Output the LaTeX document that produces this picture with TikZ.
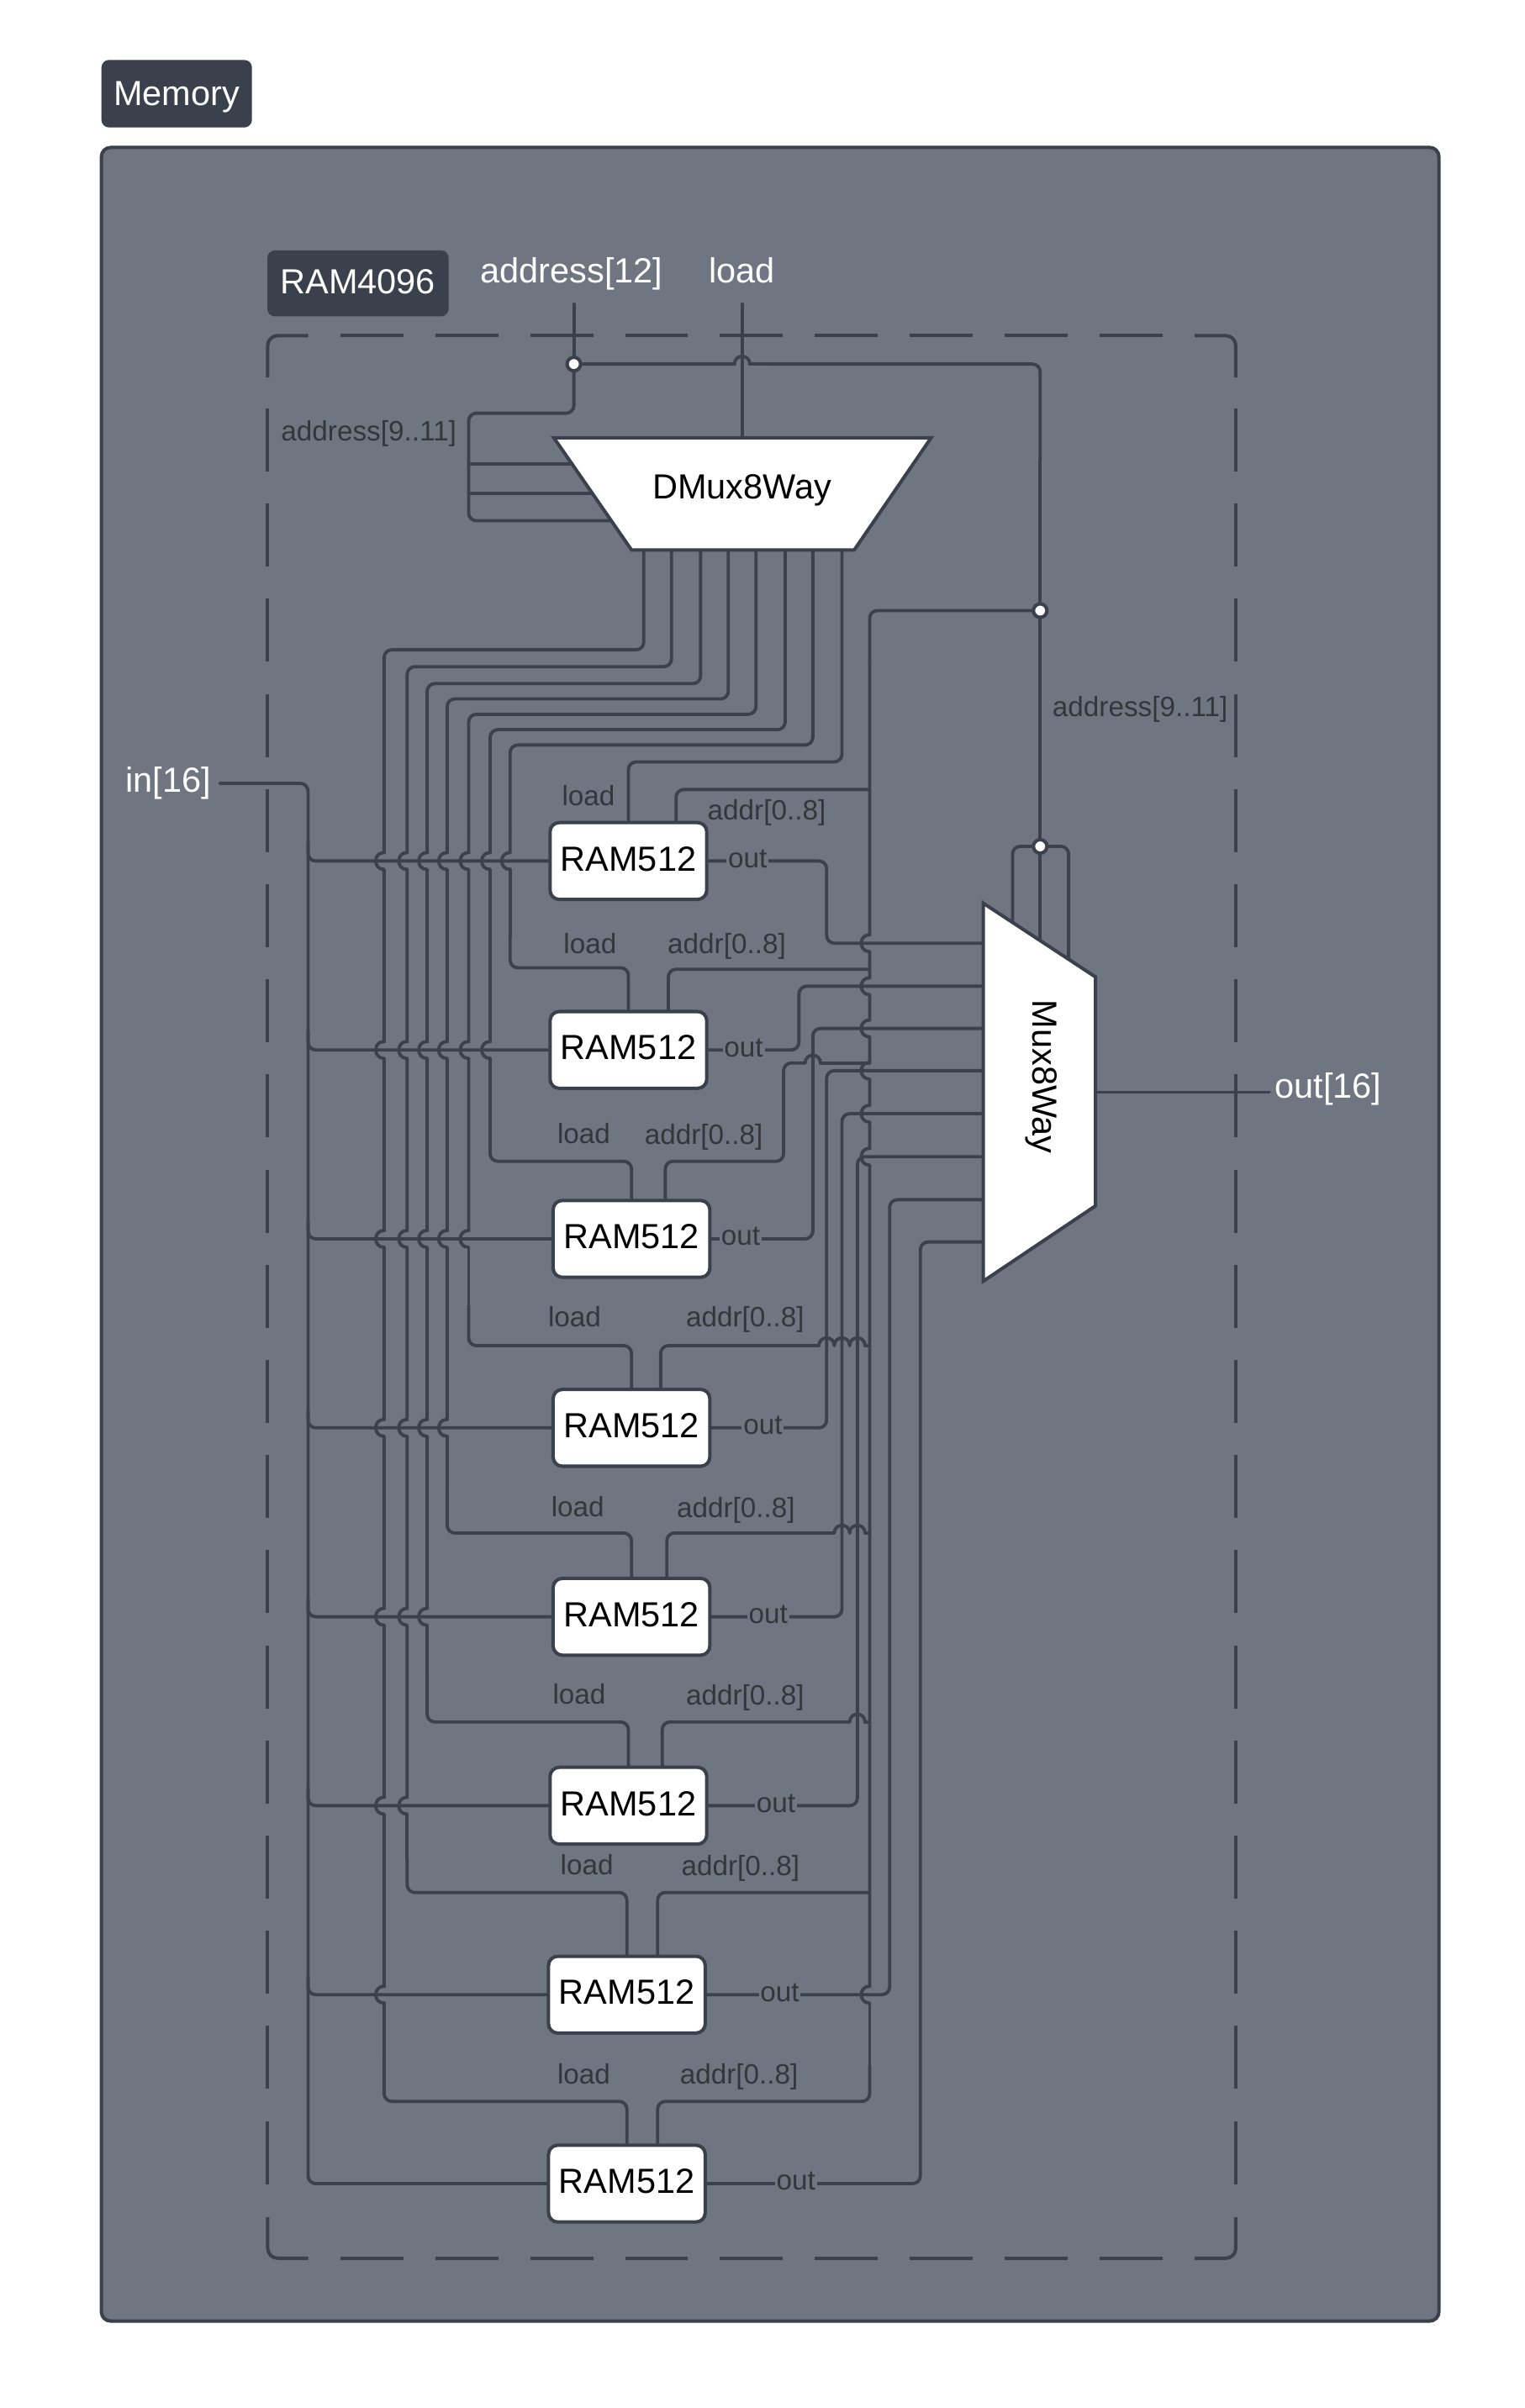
\documentclass[tikz,border=0pt]{standalone}
\usepackage{fontspec}
\setmainfont{Liberation Sans}
\definecolor{panelc}{HTML}{6F7581}
\definecolor{linec}{HTML}{3A414C}
\definecolor{labelc}{HTML}{33373C}
\pgfdeclarelayer{wires}
\pgfsetlayers{wires,main}
\tikzset{
  wire/.style={draw=linec,line width=2.1pt,line cap=round},
  rwire/.style={wire,rounded corners=5pt},
  frameline/.style={draw=linec,line width=2.2pt},
  rambox/.style={draw=linec,fill=white,line width=2.2pt,rounded corners=6pt,minimum width=102pt,minimum height=50pt,inner sep=0pt,outer sep=0pt,text depth=3pt,font=\fontsize{22.7}{27}\selectfont},
  trapline/.style={draw=linec,fill=white,line width=2.2pt,line join=miter},
  bigtext/.style={inner sep=0pt,font=\fontsize{22.7}{27}\selectfont},
  whitetext/.style={bigtext,text=white},
  smalltext/.style={inner sep=0pt,text=labelc,font=\fontsize{18.2}{22}\selectfont},
  portlabel/.style={smalltext,fill=panelc,inner xsep=1pt,inner ysep=0pt},
  titletag/.style={fill=linec,rounded corners=5pt,text=white,inner sep=0pt,text depth=0pt,font=\fontsize{22.7}{27}\selectfont},
  joint/.style={circle,draw=linec,fill=white,line width=2.2pt,minimum size=8.8pt,inner sep=0pt,outer sep=0pt}
}
% vertical run with leftward bumps: x, y start, y end, crossing list
\newcommand\vrun[4]{%
  \xdef\curpos{#2}%
  \foreach \c in {#4}{%
    \draw[wire] (#1,\curpos) -- (#1,\c-5.5) .. controls (#1-7.3,\c-5.5) and (#1-7.3,\c+5.5) .. (#1,\c+5.5);
    \pgfmathsetmacro\nxtpos{\c+5.5}\global\let\curpos\nxtpos
  }%
  \draw[wire] (#1,\curpos) -- (#1,#3);
}
% horizontal run with upward bumps: y, x start, x end, crossing list
\newcommand\hrun[4]{%
  \xdef\curpos{#2}%
  \foreach \c in {#4}{%
    \draw[wire] (\curpos,#1) -- (\c-5,#1) .. controls (\c-5,#1-6.7) and (\c+5,#1-6.7) .. (\c+5,#1);
    \pgfmathsetmacro\nxtpos{\c+5}\global\let\curpos\nxtpos
  }%
  \draw[wire] (\curpos,#1) -- (#3,#1);
}
\begin{document}
\begin{tikzpicture}[x=1pt,y=-1pt]
\useasboundingbox (0,0) rectangle (992,1567.6);

% --- named ends ---
\coordinate (addrtop) at (373.5,198);
\coordinate (loadtop) at (483,198);
\coordinate (inend) at (143,510);
\coordinate (outend) at (826,711);
\coordinate (inbus) at (200.5,0);
\coordinate (dmuxtop) at (483,285);
\coordinate (dmuxa) at (385,302);
\coordinate (dmuxb) at (395,321);
\coordinate (dmuxc) at (405,339);
\coordinate (muxout) at (713,711);
\foreach \i/\x in {1/419,2/437,3/456,4/474,5/492,6/511,7/529,8/548} \coordinate (dmo\i) at (\x,358);
\foreach \i/\y in {1/614,2/642,3/669.5,4/697,5/725,6/753,7/781,8/808.5} \coordinate (muxi\i) at (640,\y);
\foreach \i/\x/\y in {1/440/536,2/435/659,3/433/782,4/430/905,5/434/1028,6/431/1151,7/428/1274,8/428/1397} \coordinate (addr\i) at (\x,\y);

% --- nodes ---
\node[titletag,minimum width=98pt,minimum height=44pt] (memtag) at (115,61) {Memory};
\node[titletag,minimum width=118pt,minimum height=43pt,text depth=2pt] (ramtag) at (233,184.5) {RAM4096};

\node[rambox] (ram1) at (409,560.5) {RAM512};
\node[rambox] (ram2) at (409,683.5) {RAM512};
\node[rambox] (ram3) at (411,806.5) {RAM512};
\node[rambox] (ram4) at (411,929.5) {RAM512};
\node[rambox] (ram5) at (411,1052.5) {RAM512};
\node[rambox] (ram6) at (409,1175.5) {RAM512};
\node[rambox] (ram7) at (408,1298.5) {RAM512};
\node[rambox] (ram8) at (408,1421.5) {RAM512};

\draw[trapline] (360.5,285) -- (606,285) -- (556,358) -- (411,358) -- cycle;
\node[bigtext,text=black] (dmux) at (483,319) {DMux8Way};
\draw[trapline] (640,588) -- (713,636) -- (713,785) -- (640,834) -- cycle;
\node[bigtext,text=black,rotate=-90] (mux) at (678,701) {Mux8Way};

\node[joint] (dot1) at (373.5,237) {};
\node[joint] (dot2) at (677,397.5) {};
\node[joint] (dot3) at (677,551) {};

% --- texts ---
\node[whitetext] (taddr) at (372,178) {address[12]};
\node[whitetext] (tload) at (483,176) {load};
\node[whitetext] (tin) at (109.5,510) {in[16]};
\node[whitetext] (tout) at (864.5,709) {out[16]};
\node[smalltext] (ta1) at (240,282.5) {address[9..11]};
\node[smalltext] (ta2) at (742,461.5) {address[9..11]};
\foreach \n/\x/\y in {1/383/518,2/384/614,3/380/738,4/374/857,5/376/981,6/377/1103,7/382/1214,8/380/1350}
  \node[smalltext] (lload\n) at (\x,\y) {load};
\foreach \n/\x/\y in {1/499/529,2/473/616,3/458/740,4/485/859,5/479/983,6/485/1105,7/482/1216,8/481/1352}
  \node[smalltext] (laddr\n) at (\x,\y) {addr[0..8]};
\foreach \n/\x/\y in {1/486.5/559,2/484/682,3/482/805,4/496.5/928,5/500/1051,6/505/1174,7/507.5/1297,8/518/1420}
  \node[portlabel] (lout\n) at (\x,\y) {out};

\begin{pgfonlayer}{wires}
\fill[white] (0,0) rectangle (992,1567.6);
\draw[fill=panelc,draw=linec,line width=2.2pt,rounded corners=6pt] (66,96) rectangle (936.5,1511);

% dashed frame: four corner dashes and four dashed sides
\draw[frameline,rounded corners=6.5pt] (174.2,245.7) -- (174.2,218.5) -- (200.6,218.5);
\draw[frameline,rounded corners=6.5pt] (777.5,218.5) -- (804.3,218.5) -- (804.3,245.7);
\draw[frameline,rounded corners=6.5pt] (174.2,1443.4) -- (174.2,1470.1) -- (200.6,1470.1);
\draw[frameline,rounded corners=6.5pt] (777.5,1470.1) -- (804.3,1470.1) -- (804.3,1443.4);
\draw[frameline,dash pattern=on 41pt off 20.74pt] (221.6,218.5) -- (756.8,218.5);
\draw[frameline,dash pattern=on 41pt off 20.74pt] (221.6,1470.1) -- (756.8,1470.1);
\draw[frameline,dash pattern=on 41pt off 20.94pt] (174.2,265.9) -- (174.2,1422.6);
\draw[frameline,dash pattern=on 41pt off 20.94pt] (804.3,265.9) -- (804.3,1422.6);

% address bus at the top
\draw[wire] (addrtop) -- (dot1);
\draw[rwire] (dot1) -- (373.5,269) -- (305,269) -- (305,339) -- (dmuxc);
\draw[wire] (305,302) -- (dmuxa);
\draw[wire] (305,321) -- (dmuxb);
\draw[wire] (loadtop) -- (dmuxtop);
\hrun{237}{373.5}{500}{483}
\draw[rwire] (500,237) -- (677,237) -- (677,300);
\draw[wire] (677,300) -- (dot2);
\draw[wire] (dot2) -- (dot3);
\draw[wire] (dot3) -- (677,640);
\draw[rwire] (dot3) -- (659,551) -- (659,640);
\draw[rwire] (dot3) -- (695.5,551) -- (695.5,640);

% mux output and in bus
\draw[wire] (muxout) -- (outend);
\draw[rwire] (inend) -- (200.5,510) -- (inbus |- ram8.west) -- (ram8.west);
\foreach \n in {1,...,7}{
  \draw[rwire] (inbus |- ram\n.west) ++(0,-12) -- (inbus |- ram\n.west) -- (ram\n.west);
}

% dmux outputs to the load pins
\draw[rwire] (dmo1) -- (419,423) -- (250,423) -- (250,540);
\vrun{250}{540}{1340}{560.5,683.5,806.5,929.5,1052.5,1175.5,1298.5}
\draw[rwire] (250,1340) -- (250,1368) -- (408,1368) -- (ram8.north);

\draw[rwire] (dmo2) -- (437,434) -- (265,434) -- (265,540);
\vrun{265}{540}{1210}{560.5,683.5,806.5,929.5,1052.5,1175.5}
\draw[rwire] (265,1210) -- (265,1232) -- (408,1232) -- (ram7.north);

\draw[rwire] (dmo3) -- (456,445) -- (278,445) -- (278,540);
\vrun{278}{540}{1090}{560.5,683.5,806.5,929.5,1052.5}
\draw[rwire] (278,1090) -- (278,1121) -- (409,1121) -- (ram6.north);

\draw[rwire] (dmo4) -- (474,455) -- (291,455) -- (291,540);
\vrun{291}{540}{970}{560.5,683.5,806.5,929.5}
\draw[rwire] (291,970) -- (291,998) -- (411,998) -- (ram5.north);

\draw[rwire] (dmo5) -- (492,465) -- (305,465) -- (305,540);
\vrun{305}{540}{850}{560.5,683.5,806.5}
\draw[rwire] (305,850) -- (305,876) -- (411,876) -- (ram4.north);

\draw[rwire] (dmo6) -- (511,475) -- (319,475) -- (319,540);
\vrun{319}{540}{730}{560.5,683.5}
\draw[rwire] (319,730) -- (319,756) -- (411,756) -- (ram3.north);

\draw[rwire] (dmo7) -- (529,485) -- (332,485) -- (332,540);
\vrun{332}{540}{610}{560.5}
\draw[rwire] (332,610) -- (332,630) -- (409,630) -- (ram2.north);

\draw[rwire] (dmo8) -- (548,496) -- (409,496) -- (ram1.north);

% address bus of the RAM512 blocks
\draw[rwire] (dot2) -- (566,397.5) -- (566,430);
\vrun{566}{430}{1345}{614,642,669.5,697,725,753,1298.5}
\draw[rwire] (addr1) -- (440,514) -- (566,514);
\draw[rwire] (addr2) -- (435,631) -- (566,631);
\draw[rwire] (addr3) -- (433,756) -- (510,756) -- (510,692) -- (524,692);
\hrun{692}{524}{566}{529}
\draw[rwire] (addr4) -- (430,876) -- (533,876);
\hrun{876}{533}{566}{538,548,558}
\draw[rwire] (addr5) -- (434,998) -- (543,998);
\hrun{998}{543}{566}{548,558}
\draw[rwire] (addr6) -- (431,1121) -- (553,1121);
\hrun{1121}{553}{566}{558}
\draw[rwire] (addr7) -- (428,1232) -- (566,1232);
\draw[rwire] (addr8) -- (428,1368) -- (566,1368) -- (566,1345);

% RAM512 outputs to the mux
\draw[rwire] (ram1.east) -- (538,560.5) -- (538,614) -- (muxi1);
\draw[rwire] (ram2.east) -- (520,683.5) -- (520,642) -- (muxi2);
\draw[rwire] (ram3.east) -- (529,806.5) -- (529,669.5) -- (muxi3);
\draw[rwire] (ram4.east) -- (538,929.5) -- (538,697) -- (muxi4);
\draw[rwire] (ram5.east) -- (548,1052.5) -- (548,725) -- (muxi5);
\draw[rwire] (ram6.east) -- (558,1175.5) -- (558,753) -- (muxi6);
\draw[rwire] (ram7.east) -- (579,1298.5) -- (579,781) -- (muxi7);
\draw[rwire] (ram8.east) -- (599,1421.5) -- (599,808.5) -- (muxi8);
\end{pgfonlayer}
\end{tikzpicture}
\end{document}
